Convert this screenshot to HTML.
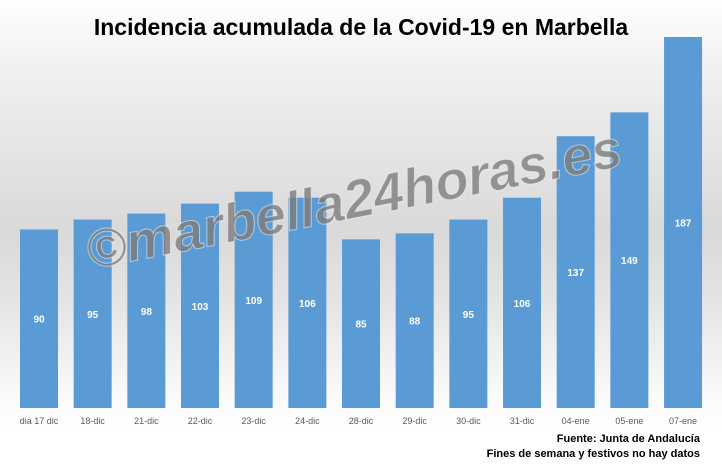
<!DOCTYPE html>
<html><head><meta charset="utf-8"><style>
body{margin:0;width:722px;height:465px;overflow:hidden;font-family:"Liberation Sans",sans-serif;}
#wrap{position:relative;width:722px;height:465px;background:linear-gradient(to bottom,#ffffff 0px,#f2f2f2 60px,#d9d9d9 230px,#e4e4e4 300px,#fbfbfb 400px,#ffffff 430px);}
</style></head><body>
<div id="wrap">
<svg id="chart" width="722" height="465">
<text x="361" y="35" text-anchor="middle" font-size="23" font-weight="bold" fill="#000">Incidencia acumulada de la Covid-19 en Marbella</text>
<g id="bars"></g>
<text x="352" y="218" font-size="54" font-weight="bold" font-style="italic" fill="rgba(125,125,125,0.8)" stroke="rgba(255,255,255,0.5)" stroke-width="1" transform="rotate(-11 352 190)" text-anchor="middle">©marbella24horas.es</text>
<text x="700" y="442" text-anchor="end" font-size="11" font-weight="bold" fill="#000">Fuente: Junta de Andalucía</text>
<text x="700" y="457" text-anchor="end" font-size="11" font-weight="bold" fill="#000">Fines de semana y festivos no hay datos</text>
</svg>
</div>
<script>
const categories=["dia 17 dic","18-dic","21-dic","22-dic","23-dic","24-dic","28-dic","29-dic","30-dic","31-dic","04-ene","05-ene","07-ene"];
const values=[90,95,98,103,109,106,85,88,95,106,137,149,187];
const baseY=408, topY=37, maxV=187;
function yScale(v){return baseY-(v/maxV)*(baseY-topY);}
function xScale(i){return 20+i*53.67;}
const bw=38;
const g=document.getElementById('bars');
const ns="http://www.w3.org/2000/svg";
categories.forEach((c,i)=>{
  const r=document.createElementNS(ns,'rect');
  r.setAttribute('x',xScale(i));r.setAttribute('y',yScale(values[i]));
  r.setAttribute('width',bw);r.setAttribute('height',baseY-yScale(values[i]));
  r.setAttribute('fill','#5b9bd5');
  
  
  g.appendChild(r);
  const t=document.createElementNS(ns,'text');
  t.setAttribute('x',xScale(i)+bw/2);t.setAttribute('y',(yScale(values[i])+baseY)/2+4);
  t.setAttribute('text-anchor','middle');t.setAttribute('font-size','10');
  t.setAttribute('font-weight','bold');t.setAttribute('fill','#fff');
  t.textContent=values[i];
  
  
  g.appendChild(t);
  const l=document.createElementNS(ns,'text');
  l.setAttribute('x',xScale(i)+bw/2);l.setAttribute('y',424);
  l.setAttribute('text-anchor','middle');l.setAttribute('font-size','9');
  l.setAttribute('fill','#595959');
  l.textContent=c;
  
  
  g.appendChild(l);
});
</script>
</body></html>
